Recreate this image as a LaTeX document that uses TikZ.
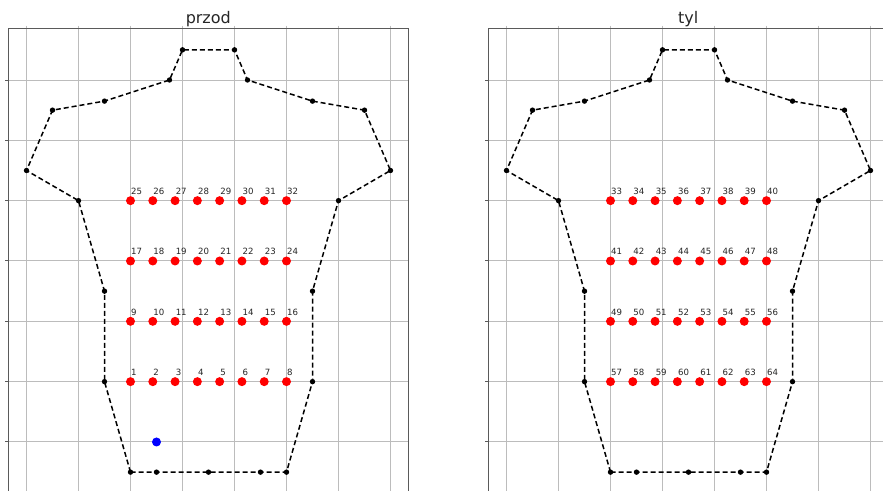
\documentclass[tikz,border=0pt]{standalone}
\usepackage{fontspec}
\setmainfont{DejaVu Sans}
\definecolor{gridc}{HTML}{BCBCBC}
\definecolor{spinec}{HTML}{5A5A5A}
\definecolor{txtc}{HTML}{262626}
\tikzset{
  gridline/.style={draw=gridc, line width=1pt},
  spine/.style={draw=spinec, line width=1.1pt},
  tickmark/.style={draw=spinec, line width=1pt},
  outline/.style={draw=black, line width=1.5pt, dash pattern=on 5pt off 3pt},
  bdot/.style={circle, fill=black, inner sep=0pt, minimum size=5.4pt},
  rdot/.style={circle, fill=red, inner sep=0pt, minimum size=9pt},
  bluedot/.style={circle, fill=blue, inner sep=0pt, minimum size=9pt},
  num/.style={font=\fontsize{8.6}{9}\selectfont, text=txtc, inner sep=0pt, anchor=base west},
  ttl/.style={font=\fontsize{16}{18}\selectfont, text=txtc, inner sep=0pt, anchor=base}
}
\begin{document}
\begin{tikzpicture}[x=1pt,y=-1pt]
\useasboundingbox (0,0) rectangle (883,490);
\clip (0,0) rectangle (883,490);
\fill[white] (0,0) rectangle (883,490);
% titles
\node[ttl] (title1) at (208.3,23.5) {przod};
\node[ttl] (title2) at (688.3,23.5) {tyl};
% panels
\foreach \px/\lab/\first/\vbase/\vstep in {0/f/1/5/-1, 480/b/33/2/1} {
  \begin{scope}[shift={({\px*1pt+26.5pt},-80pt)}, x=52pt, y=-60.33pt]
    % grid
    \foreach \gx in {0,...,7} \draw[gridline] (\gx,-0.9) -- (\gx,7.5);
    \foreach \gy in {0,...,6} \draw[gridline] (-0.35,\gy) -- (7.34,\gy);
    % ticks
    \foreach \gy in {0,...,6} \draw[tickmark] (-0.35,\gy) -- ++(-3.5pt,0);
    % spines
    \draw[spine] (-0.35,7.5) -- (-0.35,-0.848) -- (7.34,-0.848) -- (7.34,7.5);
    % outline coordinates
    \coordinate (\lab o1) at (2,6.5);
    \coordinate (\lab o2) at (1.5,5);
    \coordinate (\lab o3) at (1.5,3.5);
    \coordinate (\lab o4) at (1,2);
    \coordinate (\lab o5) at (0,1.5);
    \coordinate (\lab o6) at (0.5,0.5);
    \coordinate (\lab o7) at (1.5,0.35);
    \coordinate (\lab o8) at (2.75,0);
    \coordinate (\lab o9) at (3,-0.5);
    \coordinate (\lab o10) at (4,-0.5);
    \coordinate (\lab o11) at (4.25,0);
    \coordinate (\lab o12) at (5.5,0.35);
    \coordinate (\lab o13) at (6.5,0.5);
    \coordinate (\lab o14) at (7,1.5);
    \coordinate (\lab o15) at (6,2);
    \coordinate (\lab o16) at (5.5,3.5);
    \coordinate (\lab o17) at (5.5,5);
    \coordinate (\lab o18) at (5,6.5);
    \coordinate (\lab o19) at (4.5,6.5);
    \coordinate (\lab o20) at (3.5,6.5);
    \coordinate (\lab o21) at (2.5,6.5);
    \draw[outline] (\lab o1) -- (\lab o2) -- (\lab o3) -- (\lab o4) -- (\lab o5) -- (\lab o6) -- (\lab o7) -- (\lab o8) -- (\lab o9) -- (\lab o10) -- (\lab o11) -- (\lab o12) -- (\lab o13) -- (\lab o14) -- (\lab o15) -- (\lab o16) -- (\lab o17) -- (\lab o18) -- (\lab o19) -- (\lab o20) -- (\lab o21) -- cycle;
    \foreach \k in {1,...,21} \node[bdot] (\lab d\k) at (\lab o\k) {};
    % electrodes
    \foreach \row in {0,...,3} {
      \foreach \col in {0,...,7} {
        \pgfmathtruncatemacro\n{\first+\row*8+\col}
        \node[rdot] (\lab p\n) at ({2+\col*3/7},{\vbase+\vstep*\row}) {};
        \node[num, xshift=0.5pt, yshift=6pt] (\lab t\n) at (\lab p\n.center) {\n};
      }
    }
  \end{scope}
}
% reference electrode (front only)
\begin{scope}[shift={(26.5pt,-80pt)}, x=52pt, y=-60.33pt]
  \node[bluedot] (ref) at (2.5,6) {};
\end{scope}
\end{tikzpicture}
\end{document}
